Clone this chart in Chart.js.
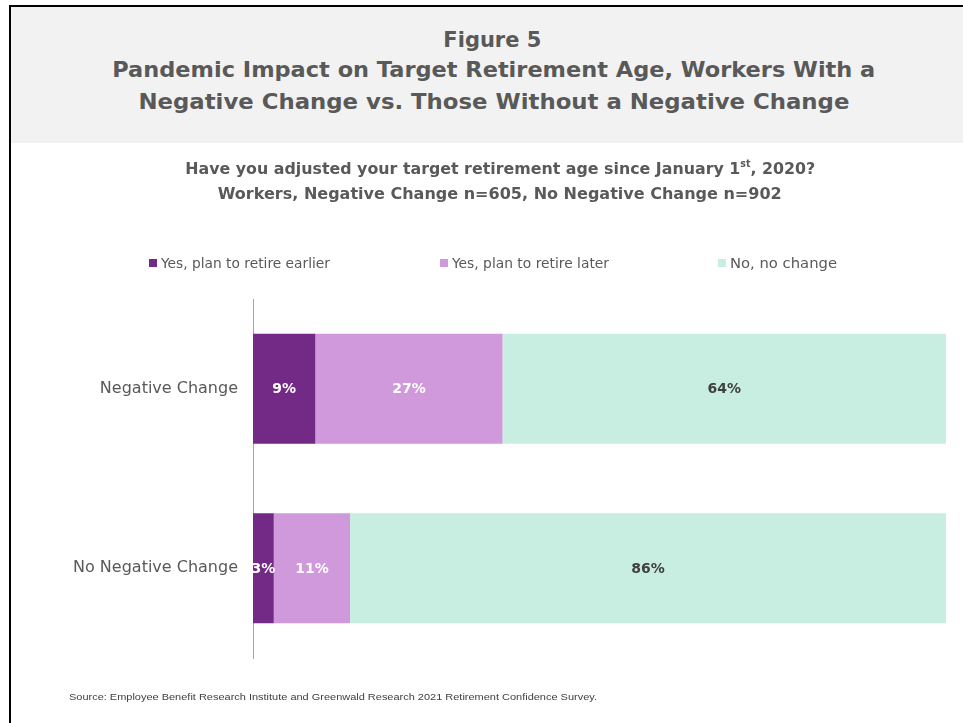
<!DOCTYPE html>
<html>
<head>
<meta charset="utf-8">
<script src="https://cdn.jsdelivr.net/npm/chart.js@4.4.1/dist/chart.umd.min.js"></script>
<style>
  html, body { margin: 0; padding: 0; width: 963px; height: 723px; overflow: hidden; background: #fff; }
  body { position: relative; font-family: "DejaVu Sans", sans-serif; }
  #frame { position: absolute; left: 9px; top: 5px; width: 1000px; height: 800px;
           border-left: 2px solid #000; border-top: 2px solid #000; }
  #header { position: absolute; left: 11px; top: 7px; width: 952px; height: 136px; background: #f2f2f2; }
  #chart { position: absolute; left: 11px; top: 143px; }
  .t { position: absolute; white-space: nowrap; line-height: 1; }
  .t sup { font-size: 0.6em; line-height: 0; vertical-align: 0.7em; }
  .sw { position: absolute; width: 8px; height: 8px; }
</style>
</head>
<body>
<div id="frame"></div>
<div id="header"></div>
<canvas id="chart" width="952" height="580"></canvas>
<script>
// Survey groups (bars) and answer series
const groups = ['Negative Change', 'No Negative Change'];
const seriesNames = ['Yes, plan to retire earlier', 'Yes, plan to retire later', 'No, no change'];
const retireEarlier = [9, 3];
const retireLater = [27, 11];
const noChange = [64, 86];
const seriesColors = ['#732A86', '#CF99DC', '#C8EEE2'];
const labelColors = ['#ffffff', '#ffffff', '#404040'];

const titleLines = [
  'Figure 5',
  'Pandemic Impact on Target Retirement Age, Workers With a',
  'Negative Change vs. Those Without a Negative Change'
];
const subtitleLines = [
  'Have you adjusted your target retirement age since January 1<sup>st</sup>, 2020?',
  'Workers, Negative Change n=605, No Negative Change n=902'
];
const sourceNote = 'Source: Employee Benefit Research Institute and Greenwald Research 2021 Retirement Confidence Survey.';

// Place a text line, stretched horizontally to a given width
function placeText(html, x, cy, w, opts) {
  const el = document.createElement('div');
  el.className = 't';
  el.innerHTML = html;
  el.style.fontSize = opts.size + 'px';
  el.style.fontWeight = opts.weight || 'normal';
  el.style.color = opts.color || '#595959';
  if (opts.family) el.style.fontFamily = opts.family;
  document.body.appendChild(el);
  const r = el.getBoundingClientRect();
  const k = w / r.width;
  const align = opts.align || 'center';
  el.style.transformOrigin = align === 'center' ? 'center center' : 'left center';
  el.style.left = (align === 'center' ? x - r.width / 2 : x) + 'px';
  el.style.top = (cy - r.height / 2) + 'px';
  el.style.transform = 'scaleX(' + k.toFixed(4) + ')';
  return el;
}

// Header titles
placeText(titleLines[0], 492, 40, 98, { size: 22, weight: 'bold' });
placeText(titleLines[1], 493.5, 70, 763, { size: 22, weight: 'bold' });
placeText(titleLines[2], 493.5, 102, 711, { size: 22, weight: 'bold' });

// Question and sample sizes
placeText(subtitleLines[0], 500, 169, 630, { size: 16, weight: 'bold' });
placeText(subtitleLines[1], 500, 194, 564, { size: 16, weight: 'bold' });

// Legend
const legendSwatchX = [149, 440, 718];
const legendTextX = [161, 452, 730];
const legendTextW = [169, 157, 107];
seriesNames.forEach((name, i) => {
  const sw = document.createElement('div');
  sw.className = 'sw';
  sw.style.left = legendSwatchX[i] + 'px';
  sw.style.top = '259px';
  sw.style.background = seriesColors[i];
  document.body.appendChild(sw);
  placeText(name, legendTextX[i], 263, legendTextW[i], { size: 14.5, align: 'left' });
});

// Source note
placeText(sourceNote, 69, 697, 528, { size: 9.5, align: 'left', color: '#404040', family: '"Liberation Sans", Arial, sans-serif' });

// Percent labels centred inside each bar segment
const segmentLabels = {
  id: 'segmentLabels',
  afterDatasetsDraw(chart) {
    const ctx = chart.ctx;
    ctx.save();
    ctx.font = 'bold 14px "DejaVu Sans", sans-serif';
    ctx.textAlign = 'center';
    ctx.textBaseline = 'middle';
    chart.data.datasets.forEach((ds, di) => {
      const meta = chart.getDatasetMeta(di);
      meta.data.forEach((bar, j) => {
        const v = ds.data[j];
        ctx.fillStyle = labelColors[di];
        ctx.fillText(v + '%', (bar.x + bar.base) / 2, bar.y + 1);
      });
    });
    ctx.restore();
  }
};

const seriesValues = [retireEarlier, retireLater, noChange];

new Chart(document.getElementById('chart'), {
  type: 'bar',
  data: {
    labels: groups,
    datasets: seriesNames.map((name, i) => ({
      label: name,
      data: seriesValues[i],
      backgroundColor: seriesColors[i],
      borderWidth: 0,
      categoryPercentage: 0.613,
      barPercentage: 1
    }))
  },
  options: {
    indexAxis: 'y',
    responsive: false,
    animation: false,
    devicePixelRatio: 1,
    layout: { padding: { left: 0, right: 17, top: 156, bottom: 65 } },
    plugins: {
      legend: { display: false },
      tooltip: { enabled: false }
    },
    scales: {
      x: { stacked: true, min: 0, max: 100, display: false },
      y: {
        stacked: true,
        grid: { display: false, drawTicks: false },
        border: { display: true, color: '#a6a6a6', width: 1 },
        ticks: {
          color: '#595959',
          padding: 15,
          font: { family: '"DejaVu Sans", sans-serif', size: 16 }
        },
        afterFit(scale) { scale.width = 242; }
      }
    }
  },
  plugins: [segmentLabels]
});
</script>
</body>
</html>
